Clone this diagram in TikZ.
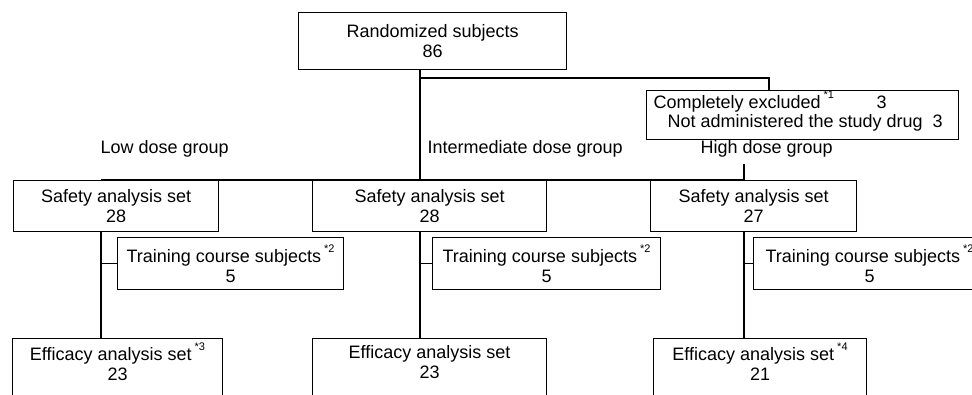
\documentclass[tikz,border=0pt]{standalone}
\usepackage{fontspec}
\setmainfont{Liberation Sans}
\usetikzlibrary{calc}
\newcommand{\fn}[1]{\,\raisebox{0.55em}{\fontsize{11}{11}\selectfont *#1}}
\begin{document}
\begin{tikzpicture}[x=1pt,y=-1pt, line width=1.1pt,
  box/.style={draw, rectangle, inner sep=0pt, align=center, anchor=north west,
              font=\fontsize{18}{20.5}\selectfont},
  txt/.style={inner sep=0pt, align=center, font=\fontsize{18}{20.5}\selectfont},
  lbl/.style={anchor=base west, inner sep=0pt, font=\fontsize{18}{20.5}\selectfont}]
\useasboundingbox (0,0) rectangle (972,394);
\clip (0,0) rectangle (972,394);
\fill[white] (0,0) rectangle (972,394);

% top
\node[box, minimum width=268, minimum height=57] (top) at (298,12) {Randomized subjects\\86};
% excluded
\node[box, minimum width=312, minimum height=49] (excl) at (646,90) {};
\node[lbl] (ex1) at ($(excl.north west)+(7,18)$) {Completely excluded\fn{1}};
\node[lbl] (ex1n) at ($(excl.north west)+(230,18)$) {3};
\node[lbl] (ex2) at ($(excl.north west)+(21,37)$) {Not administered the study drug\ \ 3};

% group labels
\node[lbl] (gL) at (100,153) {Low dose group};
\node[lbl] (gM) at (427,153) {Intermediate dose group};
\node[lbl] (gH) at (700,153) {High dose group};

% safety
\node[box, minimum width=205, minimum height=51] (sL) at (13,180) {Safety analysis set\\28};
\node[box, minimum width=234, minimum height=51] (sM) at (312,180) {Safety analysis set\\28};
\node[box, minimum width=206, minimum height=51] (sH) at (650,180) {Safety analysis set\\27};

% training
\node[box, minimum width=226, minimum height=52] (tL) at (117,237) {Training course subjects\fn{2}\\5};
\node[box, minimum width=228, minimum height=52] (tM) at (432,237) {Training course subjects\fn{2}\\5};
\node[box, minimum width=232, minimum height=52] (tH) at (753,237) {Training course subjects\fn{2}\\5};

% efficacy
\node[box, minimum width=210, minimum height=80] (eL) at (12,338) {};
\node[box, minimum width=234, minimum height=80] (eM) at (312,338) {};
\node[box, minimum width=213, minimum height=80] (eH) at (653,338) {};
\node[txt] (eLt) at ($(eL.north)+(0,24)$) {Efficacy analysis set\fn{3}\\23};
\node[txt] (eMt) at ($(eM.north)+(0,24)$) {Efficacy analysis set\\23};
\node[txt] (eHt) at ($(eH.north)+(0,24)$) {Efficacy analysis set\fn{4}\\21};

% connectors
\coordinate (tb) at ($(top.south west)+(122,0)$);
\coordinate (hub) at (tb |- 0,164);
\coordinate (ex) at ($(excl.north west)+(123,0)$);
\draw (tb) -- (hub);
\draw (tb |- 0,78) -| (ex);
\coordinate (sLt) at ($(sL.north west)+(88,0)$);
\coordinate (sMt) at ($(sM.north west)+(108,0)$);
\coordinate (sHt) at ($(sH.north west)+(94,0)$);
\draw (sLt) |- (sHt);
\draw (hub) -- (sMt);
\draw (sHt |- 0,164) -- (sHt);

\coordinate (sLb) at (sLt |- sL.south);
\coordinate (sMb) at (sMt |- sM.south);
\coordinate (sHb) at (sHt |- sH.south);
\draw (sLb) -- (sLb |- eL.north);
\draw (sMb) -- (sMb |- eM.north);
\draw (sHb) -- (sHb |- eH.north);
\draw (sLb |- tL.west) -- (tL.west);
\draw (sMb |- tM.west) -- (tM.west);
\draw (sHb |- tH.west) -- (tH.west);
\end{tikzpicture}
\end{document}
